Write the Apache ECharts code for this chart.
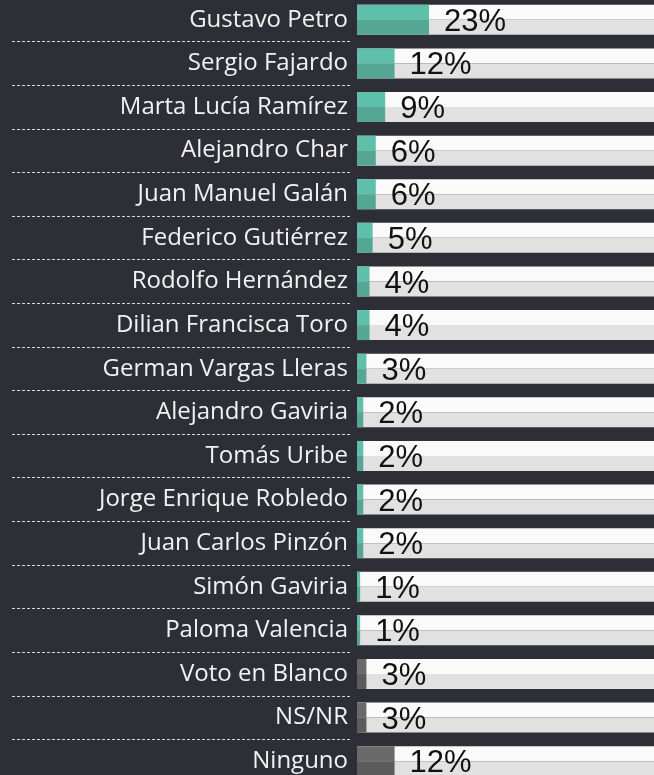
<!DOCTYPE html>
<html lang="es">
<head>
    <meta charset="utf-8">
    <title>Intención de voto</title>
    <script src="https://cdn.jsdelivr.net/npm/echarts@6/dist/echarts.min.js"></script>
    <style>
        html, body { margin: 0; padding: 0; background: #2e2e37; }
    </style>
</head>
<body>

<div id="main" style="width: 654px;height:775px;"></div>

<script type="text/javascript">

    // datos
    var candidatos = ['Gustavo Petro', 'Sergio Fajardo', 'Marta Lucía Ramírez', 'Alejandro Char',
        'Juan Manuel Galán', 'Federico Gutiérrez', 'Rodolfo Hernández', 'Dilian Francisca Toro',
        'German Vargas Lleras', 'Alejandro Gaviria', 'Tomás Uribe', 'Jorge Enrique Robledo',
        'Juan Carlos Pinzón', 'Simón Gaviria', 'Paloma Valencia', 'Voto en Blanco', 'NS/NR', 'Ninguno'];
    var porcentajes = [23, 12, 9, 6, 6, 5, 4, 4, 3, 2, 2, 2, 2, 1, 1, 3, 3, 12];
    var esCandidato = [1, 1, 1, 1, 1, 1, 1, 1, 1, 1, 1, 1, 1, 1, 1, 0, 0, 0];

    var myChart = echarts.init(document.getElementById('main'));

    function datos(claro) {
        return porcentajes.map(function (v, i) {
            var c;
            if (esCandidato[i]) c = claro ? '#5ebfaa' : '#56a694';
            else c = claro ? '#6a6a6a' : '#5c5c5c';
            return {value: v, itemStyle: {color: c}};
        });
    }

    var option = {
        backgroundColor: '#2e2e37',
        animation: false,
        grid: [
            {left: 357, top: -2, width: 313, height: 785, outerBoundsMode: 'none'},
            {left: 12, top: -2, width: 338, height: 785, outerBoundsMode: 'none'}
        ],
        xAxis: [
            {gridIndex: 0, type: 'value', min: 0, max: 100, show: false},
            {gridIndex: 1, type: 'value', min: 0, max: 1, show: false}
        ],
        yAxis: [
            {
                gridIndex: 0,
                type: 'category',
                inverse: true,
                data: candidatos,
                axisLine: {show: false},
                axisTick: {show: false},
                axisLabel: {
                    margin: 9,
                    color: '#f2f2f2',
                    fontSize: 24,
                    fontFamily: 'Open Sans'
                }
            },
            {
                gridIndex: 1,
                type: 'category',
                inverse: true,
                data: candidatos,
                axisLine: {show: false},
                axisTick: {show: false},
                axisLabel: {show: false},
                splitLine: {
                    show: true,
                    interval: 0,
                    lineStyle: {color: '#d8d8d8', width: 1, type: [3, 2]}
                }
            }
        ],
        series: [
            {
                name: 'arriba',
                type: 'bar',
                xAxisIndex: 0,
                yAxisIndex: 0,
                barWidth: 15,
                barGap: '0%',
                showBackground: true,
                backgroundStyle: {color: '#fafafa'},
                data: datos(true),
                label: {
                    show: true,
                    position: 'right',
                    distance: 15,
                    offset: [0, 10],
                    formatter: '{c}%',
                    color: '#111111',
                    fontSize: 31,
                    fontFamily: 'Liberation Sans'
                }
            },
            {
                name: 'abajo',
                type: 'bar',
                xAxisIndex: 0,
                yAxisIndex: 0,
                barWidth: 15,
                barGap: '0%',
                showBackground: true,
                backgroundStyle: {color: '#e1e1e1'},
                data: datos(false)
            }
        ]
    };

    myChart.setOption(option);

</script>

</body>
</html>
